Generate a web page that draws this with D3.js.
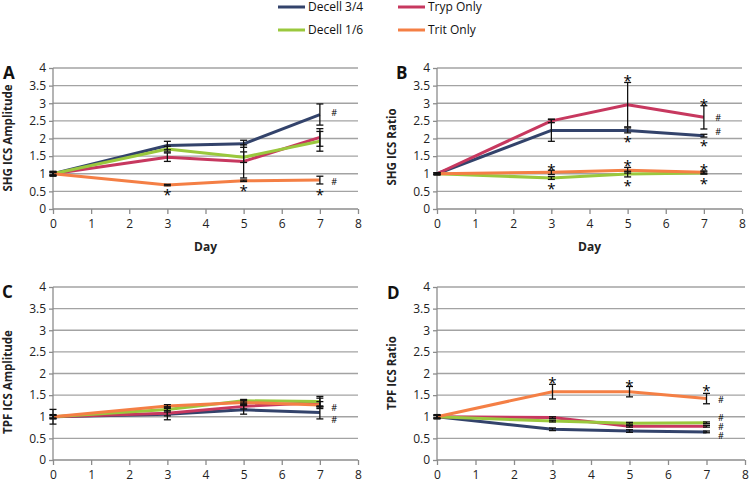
<!DOCTYPE html>
<html><head><meta charset="utf-8">
<script src="https://cdn.jsdelivr.net/npm/d3@7"></script>
<style>
body{margin:0;background:#fff;}
svg text{font-family:"Open Sans",Lato,sans-serif;}
</style></head>
<body><svg id="c" width="750" height="482"></svg>
<script>
// ---------- DATA ----------
const days = [0, 3, 5, 7];
const seriesNames = ["Decell 3/4", "Tryp Only", "Decell 1/6", "Trit Only"];
const seriesColors = ["#33436b", "#c7385f", "#9ac83d", "#f47f45"];
const xTicks = [0, 1, 2, 3, 4, 5, 6, 7, 8];
const yTicks = [0, 0.5, 1, 1.5, 2, 2.5, 3, 3.5, 4];
const yTickLabels = ["0", "0.5", "1", "1.5", "2", "2.5", "3", "3.5", "4"];

// Panel A: SHG ICS Amplitude (order: Decell 3/4, Tryp, Decell 1/6, Trit)
const aValues = [
  [1.00, 1.80, 1.85, 2.68],
  [1.00, 1.47, 1.35, 2.03],
  [1.00, 1.70, 1.47, 1.92],
  [1.00, 0.68, 0.80, 0.82]
];
const aErrors = [
  [0.07, 0.12, 0.10, 0.30],
  [0.05, 0.12, 0.47, 0.25],
  [0.05, 0.08, 0.15, 0.28],
  [0.03, 0.02, 0.02, 0.11]
];
const aMarks = [
  {day: 3, y: 0.50, s: "*"}, {day: 5, y: 0.61, s: "*"}, {day: 7, y: 0.50, s: "*"},
  {day: 7.3, y: 2.72, s: "#"}, {day: 7.3, y: 0.76, s: "#"}
];

// Panel B: SHG ICS Ratio
const bValues = [
  [1.00, 2.23, 2.23, 2.08],
  [1.00, 2.50, 2.96, 2.60],
  [1.00, 0.88, 0.99, 1.02],
  [1.00, 1.04, 1.10, 1.04]
];
const bErrors = [
  [0.03, 0.31, 0.07, 0.04],
  [0.03, 0.05, 0.63, 0.33],
  [0.02, 0.04, 0.08, 0.03],
  [0.02, 0.06, 0.08, 0.04]
];
const bMarks = [
  {day: 3, y: 1.21, s: "*"}, {day: 3, y: 0.66, s: "*"},
  {day: 5, y: 3.72, s: "*"}, {day: 5, y: 1.99, s: "*"}, {day: 5, y: 1.30, s: "*"}, {day: 5, y: 0.74, s: "*"},
  {day: 7, y: 3.05, s: "*"}, {day: 7, y: 1.87, s: "*"}, {day: 7, y: 1.19, s: "*"}, {day: 7, y: 0.80, s: "*"},
  {day: 7.3, y: 2.60, s: "#"}, {day: 7.3, y: 2.20, s: "#"}
];

// Panel C: TPF ICS Amplitude
const cValues = [
  [1.00, 1.06, 1.16, 1.10],
  [1.00, 1.08, 1.24, 1.33],
  [1.00, 1.17, 1.37, 1.35],
  [1.00, 1.25, 1.33, 1.27]
];
const cErrors = [
  [0.17, 0.13, 0.10, 0.15],
  [0.05, 0.06, 0.06, 0.10],
  [0.04, 0.06, 0.03, 0.12],
  [0.03, 0.03, 0.05, 0.08]
];
const cMarks = [
  {day: 7.3, y: 1.20, s: "#"}, {day: 7.3, y: 0.93, s: "#"}
];

// Panel D: TPF ICS Ratio
const dValues = [
  [1.00, 0.71, 0.67, 0.65],
  [1.00, 0.98, 0.78, 0.78],
  [1.00, 0.90, 0.85, 0.86],
  [1.00, 1.58, 1.58, 1.42]
];
const dErrors = [
  [0.05, 0.03, 0.03, 0.02],
  [0.03, 0.02, 0.02, 0.02],
  [0.03, 0.02, 0.02, 0.02],
  [0.04, 0.17, 0.12, 0.12]
];
const dMarks = [
  {day: 3, y: 1.86, s: "*"}, {day: 5, y: 1.78, s: "*"}, {day: 7, y: 1.67, s: "*"},
  {day: 7.3, y: 1.40, s: "#"}, {day: 7.3, y: 0.98, s: "#"}, {day: 7.3, y: 0.77, s: "#"}, {day: 7.3, y: 0.56, s: "#"}
];

// ---------- LAYOUT ----------
const panels = [
  {letter: "A", title: "SHG ICS Amplitude", values: aValues, errors: aErrors, marks: aMarks,
   x0: 53, x1: 358, y0: 209, y1: 68, day: true, lx: 3, ly: 79, tx: 12, ty: 138},
  {letter: "B", title: "SHG ICS Ratio", values: bValues, errors: bErrors, marks: bMarks,
   x0: 437, x1: 742, y0: 209, y1: 68, day: true, lx: 396, ly: 79, tx: 396, ty: 147},
  {letter: "C", title: "TPF ICS Amplitude", values: cValues, errors: cErrors, marks: cMarks,
   x0: 53, x1: 358, y0: 460, y1: 287, day: false, lx: 2, ly: 298, tx: 12, ty: 382},
  {letter: "D", title: "TPF ICS Ratio", values: dValues, errors: dErrors, marks: dMarks,
   x0: 437, x1: 745, y0: 460, y1: 287, day: false, lx: 387, ly: 299, tx: 396, ty: 373}
];

const svg = d3.select("#c");

panels.forEach(p => {
  const x = d3.scaleLinear().domain([0, 8]).range([p.x0, p.x1]);
  const y = d3.scaleLinear().domain([0, 4]).range([p.y0, p.y1]);
  const g = svg.append("g");

  // gridlines
  g.selectAll("line.grid").data(yTicks.filter(v => v > 0)).enter().append("line")
    .attr("x1", p.x0).attr("x2", p.x1).attr("y1", d => y(d)).attr("y2", d => y(d))
    .attr("stroke", "#a3a3a3").attr("stroke-width", 1.3);

  // axes
  const xAxis = d3.axisBottom(x).tickValues(xTicks).tickSize(5).tickPadding(5).tickFormat(d3.format("d"));
  const yAxis = d3.axisLeft(y).tickValues(yTicks).tickSize(4).tickPadding(3).tickFormat((d, i) => yTickLabels[i]);
  const gx = g.append("g").attr("transform", `translate(0,${p.y0})`).call(xAxis);
  const gy = g.append("g").attr("transform", `translate(${p.x0},0)`).call(yAxis);
  [gx, gy].forEach(a => {
    a.select(".domain").attr("stroke", "#8c8c8c").attr("stroke-width", 1.3);
    a.selectAll(".tick line").attr("stroke", "#8c8c8c").attr("stroke-width", 1.3);
    a.selectAll(".tick text").attr("font-size", 12).attr("fill", "#222")
      .attr("font-family", "'Open Sans',sans-serif");
  });
  gx.select(".domain").attr("d", `M${p.x0},0H${p.x1}`);
  gy.select(".domain").attr("d", `M0,${p.y0}V${p.y1}`);

  // lines
  const line = d3.line().x((d, i) => x(days[i])).y(d => y(d));
  p.values.forEach((vals, si) => {
    g.append("path").datum(vals).attr("d", line).attr("fill", "none")
      .attr("stroke", seriesColors[si]).attr("stroke-width", 3).attr("stroke-linejoin", "round");
  });

  // error bars
  p.values.forEach((vals, si) => {
    vals.forEach((v, i) => {
      const e = p.errors[si][i];
      const cx = x(days[i]);
      const eg = g.append("g").attr("stroke", "#111").attr("stroke-width", 1.3);
      eg.append("line").attr("x1", cx).attr("x2", cx).attr("y1", y(v - e)).attr("y2", y(v + e));
      eg.append("line").attr("x1", cx - 3.5).attr("x2", cx + 3.5).attr("y1", y(v + e)).attr("y2", y(v + e));
      eg.append("line").attr("x1", cx - 3.5).attr("x2", cx + 3.5).attr("y1", y(v - e)).attr("y2", y(v - e));
    });
  });

  // significance marks
  g.selectAll("text.mark").data(p.marks).enter().append("text")
    .attr("x", d => x(d.day)).attr("y", d => y(d.y))
    .attr("text-anchor", d => d.s === "#" ? "start" : "middle")
    .attr("dy", d => d.s === "*" ? "0.55em" : "0.35em")
    .attr("font-size", d => d.s === "*" ? 15 : 9)
    .attr("font-family", "'DejaVu Sans',sans-serif")
    .attr("fill", "#000").text(d => d.s);

  // panel letter
  g.append("text").attr("x", p.lx).attr("y", p.ly).attr("font-size", 17).attr("font-weight", "bold")
    .attr("font-family", "Arial,'Liberation Sans',sans-serif").attr("fill", "#111").text(p.letter);

  // y title
  g.append("text").attr("transform", `translate(${p.tx},${p.ty}) rotate(-90)`)
    .attr("text-anchor", "middle").attr("font-size", 11.5).attr("font-weight", "bold")
    .attr("fill", "#222").text(p.title);

  if (p.day) {
    g.append("text").attr("x", (p.x0 + p.x1) / 2).attr("y", 251)
      .attr("text-anchor", "middle").attr("font-size", 12).attr("font-weight", "bold")
      .attr("fill", "#222").text("Day");
  }
});

// legend
const legendPos = [[278, 7], [398, 7], [278, 30], [398, 30]];
seriesNames.forEach((n, i) => {
  const [lx, ly] = legendPos[i];
  svg.append("line").attr("x1", lx).attr("x2", lx + 27).attr("y1", ly).attr("y2", ly)
    .attr("stroke", seriesColors[i]).attr("stroke-width", 3);
  svg.append("text").attr("x", lx + 30).attr("y", ly).attr("dy", "0.35em")
    .attr("font-size", 12).attr("fill", "#111").text(n);
});
</script></body></html>
